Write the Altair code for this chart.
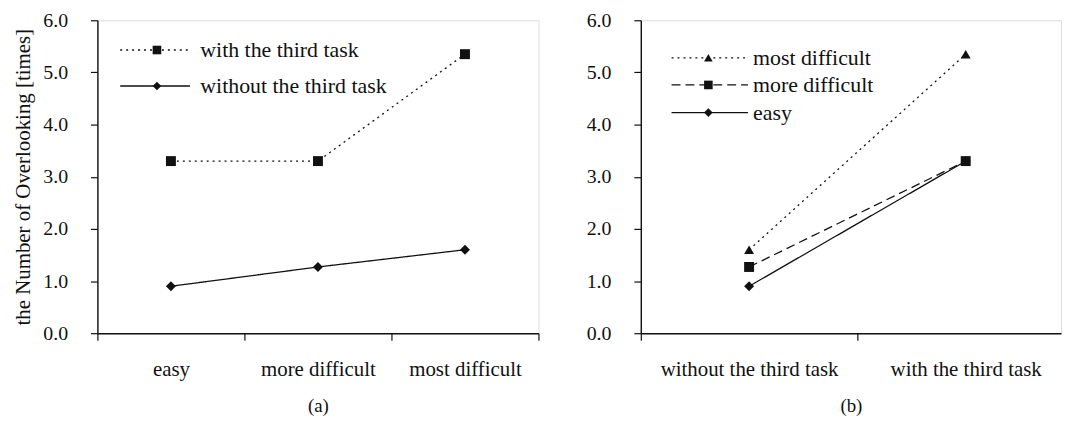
import json
import altair as alt
import pandas as pd

# ---------------- data ----------------
levels = ["easy", "more difficult", "most difficult"]
conditions = ["without the third task", "with the third task"]
without_third = [0.9, 1.27, 1.6]
with_third = [3.3, 3.3, 5.35]
y_ticks = [0, 1, 2, 3, 4, 5, 6]

series_a = ["with the third task", "without the third task"]
series_b = ["most difficult", "more difficult", "easy"]

# ---------------- styles ----------------
FONT = "'Liberation Serif', 'Times New Roman', Times, serif"
INK = "#111111"
DOT = [2, 4]
DASH = [9, 5]
SOLID = [1, 0]

# panel (a) table
rows_a = []
for i, lv in enumerate(levels):
    rows_a.append({"series": series_a[0], "pos": i + 0.5, "value": with_third[i]})
    rows_a.append({"series": series_a[1], "pos": i + 0.5, "value": without_third[i]})
df_a = pd.DataFrame(rows_a)

# panel (b) table (same measurements, transposed)
by_cond = {conditions[0]: without_third, conditions[1]: with_third}
rows_b = []
for i, lv in enumerate(levels):
    for j, cond in enumerate(conditions):
        rows_b.append({"series": lv, "pos": j + 0.5, "value": by_cond[cond][i]})
df_b = pd.DataFrame(rows_b)

# legend layout (in each panel's data units)
leg_a = pd.DataFrame({
    "series": series_a,
    "value": [5.43, 4.74],
    "lx0": [0.155, 0.155], "lx1": [0.63, 0.63],
    "lm": [0.405, 0.405], "lt": [0.70, 0.70],
})
leg_b = pd.DataFrame({
    "series": series_b,
    "value": [5.28, 4.76, 4.23],
    "lx0": [0.142] * 3, "lx1": [0.495] * 3,
    "lm": [0.312] * 3, "lt": [0.518] * 3,
})


def x_axis(names, n, title):
    vals = [k * 0.5 for k in range(2 * n + 1)]
    expr = "datum.value % 1 === 0 ? '' : " + json.dumps(names) + "[floor(datum.value)]"
    return alt.Axis(
        values=vals, labelExpr=expr, title=title, grid=False,
        tickSize=7, tickColor=INK, tickWidth=1.2,
        tickOpacity={"condition": {"test": "datum.value % 1 === 0", "value": 1}, "value": 0},
        labelPadding=19, labelFontSize=21, labelFont=FONT, labelColor=INK,
        labelOverlap=False, labelFlush=False,
        titleFont=FONT, titleFontSize=19, titleFontWeight="normal", titleColor=INK,
        titlePadding=17, domainColor=INK, domainWidth=1.4,
    )


def y_axis(title):
    kw = dict(
        values=y_ticks, format=".1f", grid=False, tickSize=7, tickColor=INK, tickWidth=1.2,
        labelPadding=23, labelFontSize=20, labelFont=FONT, labelColor=INK, labelFlush=False,
        domainColor=INK, domainWidth=1.4,
    )
    if title:
        kw.update(title=title, titleFont=FONT, titleFontSize=21, titleFontWeight="normal",
                  titleColor=INK, titlePadding=9)
    else:
        kw.update(title=None)
    return alt.Axis(**kw)


def panel(df, leg, names, n, xmax, title, ytitle, dom, dashes, shapes, width):
    sx = alt.Scale(domain=[0, xmax], nice=False, zero=False)
    sy = alt.Scale(domain=[0, 6], nice=False)
    ax = x_axis(names, n, title)
    ay = y_axis(ytitle)
    dash_enc = alt.StrokeDash("series:N", scale=alt.Scale(domain=dom, range=dashes), legend=None)
    shape_enc = alt.Shape("series:N", scale=alt.Scale(domain=dom, range=shapes), legend=None)

    def X(f):
        return alt.X(f, type="quantitative", scale=sx, axis=ax, title=title)

    def Y(f):
        return alt.Y(f, type="quantitative", scale=sy, axis=ay, title=ytitle)

    lines = alt.Chart(df).mark_line(color=INK, strokeWidth=1.3).encode(
        x=X("pos"), y=Y("value"), strokeDash=dash_enc, detail="series:N")
    pts = alt.Chart(df).mark_point(filled=True, color=INK, opacity=1, size=100).encode(
        x=X("pos"), y=Y("value"), shape=shape_enc)
    lrule = alt.Chart(leg).mark_rule(color=INK, strokeWidth=1.3).encode(
        x=X("lx0"), x2="lx1:Q", y=Y("value"), strokeDash=dash_enc)
    lpts = alt.Chart(leg).mark_point(filled=True, color=INK, opacity=1, size=75).encode(
        x=X("lm"), y=Y("value"), shape=shape_enc)
    ltxt = alt.Chart(leg).mark_text(align="left", baseline="middle", font=FONT,
                                    fontSize=22, color=INK).encode(
        x=X("lt"), y=Y("value"), text="series:N")
    return alt.layer(lines, pts, lrule, lpts, ltxt).properties(width=width, height=315)


left = panel(df_a, leg_a, levels, 3, 3, "(a)", "the Number of Overlooking [times]",
             series_a, [DOT, SOLID], ["square", "diamond"], 444)
right = panel(df_b, leg_b, conditions, 2, 1.94, "(b)", None,
              series_b, [DOT, DASH, SOLID], ["triangle-up", "square", "diamond"], 423)

chart = alt.hconcat(left, right, spacing=45).resolve_scale(
    strokeDash="independent", shape="independent", x="independent", y="independent"
).properties(
    padding={"left": 4, "top": 0, "right": 0, "bottom": 0}
).configure_view(stroke=INK, strokeWidth=1.2).configure(background="white")

chart.save("out.html", embed_options={"renderer": "svg", "actions": False})
